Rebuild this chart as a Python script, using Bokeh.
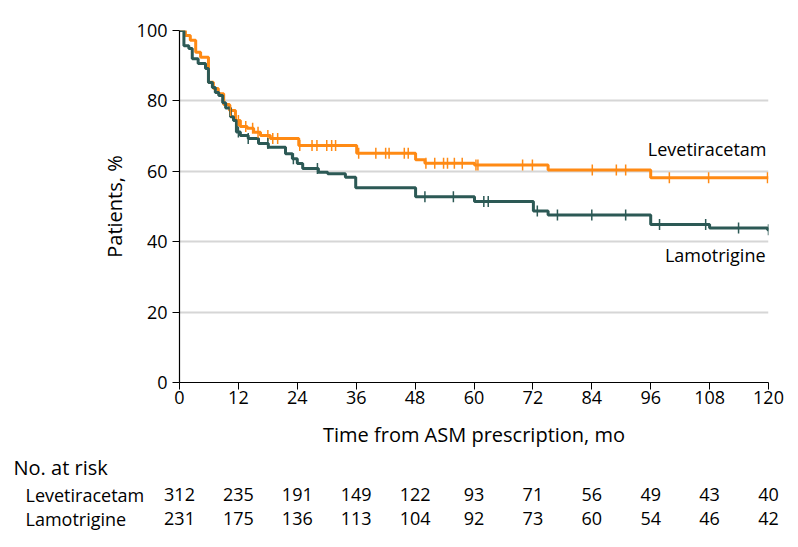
import numpy as np
from bokeh.plotting import figure
from bokeh.models import FixedTicker, Range1d
from bokeh.core.properties import value
from bokeh.embed import file_html
from bokeh.resources import INLINE

# ---------------- data ----------------
lev_t = [0, 1.2, 2.2, 3.3, 4.3, 5.9, 6.9, 7.9, 9.0, 10.2, 11.4, 12.4, 13.8, 15.1, 16.5,
         18.5, 24.3, 36.1, 48.1, 50.0, 60.1, 75.1, 96.0, 120]
lev_s = [100, 98.6, 97.2, 93.8, 92.4, 85.3, 83.5, 82.0, 79.0, 77.3, 74.4, 72.7, 72.2, 71.1,
         70.2, 69.3, 67.3, 65.1, 63.3, 62.3, 61.8, 60.4, 58.2, 58.2]
lev_cens = [10.4, 12, 13.5, 14.9, 16, 18, 19, 20, 24.5, 27, 28, 30, 31, 31.8, 36.5, 40, 42,
            42.7, 45.8, 46.6, 50.2, 52, 53.8, 54.6, 56, 57.6, 60.4, 60.8, 69.9, 71.9, 84.1,
            89, 90.9, 99.8, 107.8, 119.8]

lam_t = [0, 0.9, 1.9, 2.6, 3.8, 5.3, 5.9, 6.7, 7.3, 8.0, 8.8, 9.4, 10.4, 11.0, 11.6, 12.4,
         14.0, 16.1, 18.1, 21.6, 23.0, 24.0, 25.1, 28.3, 30.2, 33.8, 35.9, 48.1, 60.1, 72.1,
         75.1, 96.0, 108.0, 119.8, 120]
lam_s = [100, 95.7, 94.9, 92.0, 90.6, 89.2, 85.2, 83.8, 82.4, 81.5, 79.5, 78.0, 75.5, 74.4,
         71.2, 70.2, 69.3, 67.9, 66.8, 65.0, 63.6, 62.2, 60.8, 59.7, 59.3, 58.3, 55.3, 52.8,
         51.4, 48.7, 47.6, 44.9, 43.9, 43.4, 43.4]
lam_cens = [12, 14, 18, 23.2, 28.1, 50, 55.8, 62, 62.9, 72.9, 77, 84, 90.9, 97.8, 107.2,
            113.9, 120]

risk_times = [0, 12, 24, 36, 48, 60, 72, 84, 96, 108, 120]
lev_risk = [312, 235, 191, 149, 122, 93, 71, 56, 49, 43, 40]
lam_risk = [231, 175, 136, 113, 104, 92, 73, 60, 54, 46, 42]

groups = ["Levetiracetam", "Lamotrigine"]
colors = ["#FF8A14", "#2C5955"]

FONT = "Open Sans"

# ---------------- layout constants ----------------
W = 790
LEFT, RIGHT = 179, 22
FRAME_TOP, FRAME_H = 30, 352
TOP_H = 452
BOT_H = 87
SCALE = (W - LEFT - RIGHT) / 120.0


def step_value(ts, ss, x):
    i = np.searchsorted(np.array(ts), x, side="right") - 1
    return np.array(ss)[np.clip(i, 0, len(ss) - 1)]


p = figure(width=W, height=TOP_H, output_backend="svg", toolbar_location=None,
           x_range=Range1d(0, 120), y_range=Range1d(0, 100),
           min_border_left=LEFT, min_border_right=RIGHT, min_border_top=FRAME_TOP,
           min_border_bottom=TOP_H - FRAME_TOP - FRAME_H)
p.outline_line_color = None
p.background_fill_color = "white"
p.xgrid.visible = False
p.ygrid.grid_line_color = "#D6D6D6"
p.ygrid.grid_line_width = 2
p.ygrid.ticker = FixedTicker(ticks=[20, 40, 60, 80, 100])

p.xaxis.ticker = FixedTicker(ticks=risk_times)
p.yaxis.ticker = FixedTicker(ticks=[0, 20, 40, 60, 80, 100])
for ax in (p.xaxis[0], p.yaxis[0]):
    ax.axis_line_color = "black"
    ax.axis_line_width = 1.2
    ax.major_tick_line_color = "black"
    ax.major_tick_line_width = 1
    ax.major_tick_out = 7
    ax.major_tick_in = 0
    ax.minor_tick_line_color = None
    ax.major_label_text_font = FONT
    ax.major_label_text_font_size = "18px"
    ax.major_label_text_color = "black"
    ax.axis_label_text_font = FONT
    ax.axis_label_text_font_size = "20px"
    ax.axis_label_text_font_style = "normal"
    ax.axis_label_text_color = "black"
p.xaxis.axis_label = "Time from ASM prescription, mo"
p.yaxis.axis_label = "Patients, %"
p.xaxis.major_label_standoff = 1
p.yaxis.major_label_standoff = 5
p.xaxis.axis_label_standoff = 14
p.yaxis.axis_label_standoff = 6

series = [(lev_t, lev_s, lev_cens, colors[0]), (lam_t, lam_s, lam_cens, colors[1])]
for ts, ss, cens, col in series:
    p.step(ts, ss, mode="after", line_color=col, line_width=3)
for ts, ss, cens, col in series:
    cy = step_value(ts, ss, np.array(cens))
    p.scatter(cens, cy, marker="dash", angle=np.pi / 2, size=11, line_color=col,
              line_width=1.5, fill_color=col)

p.text(x=[119.6, 119.4], y=[66.2, 36.1], text=groups, text_align="right",
       text_baseline="middle", text_font=value(FONT), text_font_size="18px",
       text_color="black")

# ---------------- risk table (frame spans the full width) ----------------
xr0 = -LEFT / SCALE
xr1 = 120 + RIGHT / SCALE
q = figure(width=W, height=BOT_H, output_backend="svg", toolbar_location=None,
           x_range=Range1d(xr0, xr1), y_range=Range1d(0, BOT_H),
           min_border_left=0, min_border_right=0, min_border_top=0,
           min_border_bottom=0)
q.axis.visible = False
q.grid.visible = False
q.outline_line_color = None


def row_y(page_y):
    return BOT_H - (page_y - TOP_H)


def col_x(page_x):
    return (page_x - LEFT) / SCALE


q.text(x=[col_x(13)], y=[row_y(467)], text=["No. at risk"], text_align="left",
       text_baseline="middle", text_font=value(FONT), text_font_size="20px",
       text_color="black")
q.text(x=[col_x(25)] * 2, y=[row_y(494), row_y(518)], text=groups, text_align="left",
       text_baseline="middle", text_font=value(FONT), text_font_size="18px",
       text_color="black")
for risk, py in zip([lev_risk, lam_risk], [494, 518]):
    q.text(x=risk_times, y=[row_y(py)] * len(risk_times), text=[str(v) for v in risk],
           text_align="center", text_baseline="middle", text_font=value(FONT),
           text_font_size="18px", text_color="black")

open("out.html", "w").write(file_html([p, q], INLINE))
